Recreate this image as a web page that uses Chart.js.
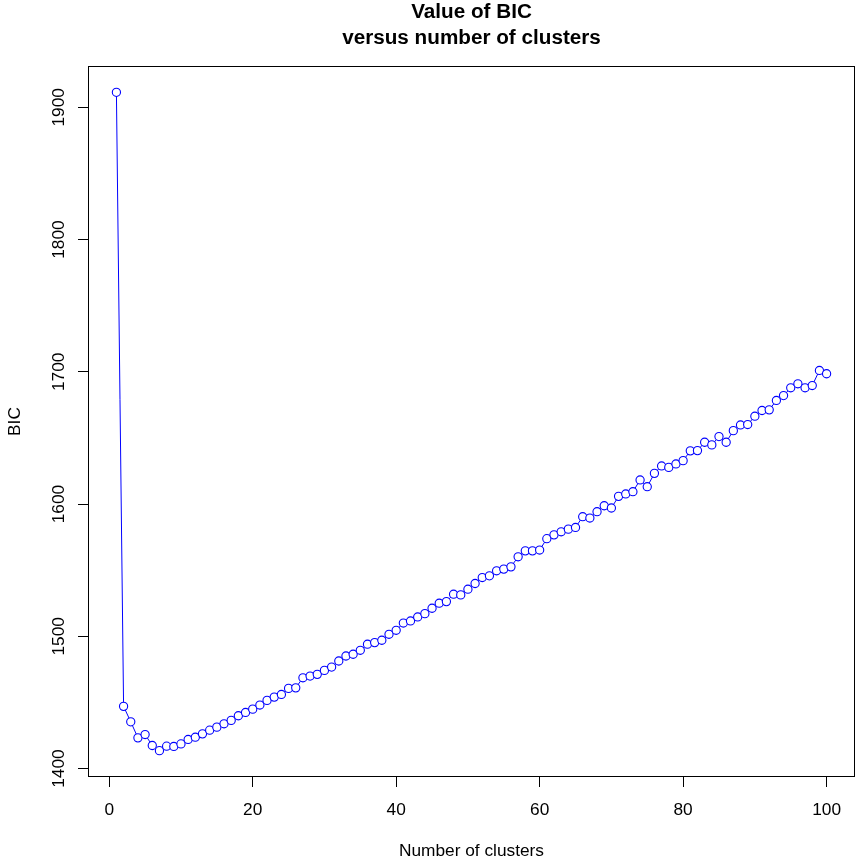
<!DOCTYPE html>
<html>
<head>
<meta charset="utf-8">
<title>Value of BIC versus number of clusters</title>
<script src="https://cdn.jsdelivr.net/npm/chart.js@4/dist/chart.umd.min.js"></script>
<style>
  html, body { margin: 0; padding: 0; background: #fff; }
  canvas { display: block; }
</style>
</head>
<body>
<canvas id="bic_chart" width="856" height="863"></canvas>
<script>
// number of clusters tried
const clusters = [
    1, 2, 3, 4, 5, 6, 7, 8, 9, 10,
    11, 12, 13, 14, 15, 16, 17, 18, 19, 20,
    21, 22, 23, 24, 25, 26, 27, 28, 29, 30,
    31, 32, 33, 34, 35, 36, 37, 38, 39, 40,
    41, 42, 43, 44, 45, 46, 47, 48, 49, 50,
    51, 52, 53, 54, 55, 56, 57, 58, 59, 60,
    61, 62, 63, 64, 65, 66, 67, 68, 69, 70,
    71, 72, 73, 74, 75, 76, 77, 78, 79, 80,
    81, 82, 83, 84, 85, 86, 87, 88, 89, 90,
    91, 92, 93, 94, 95, 96, 97, 98, 99, 100
];

// BIC for each fit
const bic = [
    1911.3, 1447.0, 1435.3, 1423.2, 1425.7, 1417.4, 1413.5, 1416.9, 1416.7, 1418.6,
    1422.0, 1423.7, 1426.2, 1429.0, 1431.3, 1433.8, 1436.4, 1439.9, 1442.4, 1444.9,
    1448.0, 1451.5, 1454.0, 1456.0, 1460.6, 1461.0, 1468.6, 1469.9, 1471.2, 1474.2,
    1476.7, 1481.3, 1485.1, 1486.4, 1489.4, 1494.0, 1495.2, 1497.0, 1501.5, 1504.5,
    1510.0, 1511.6, 1514.6, 1517.1, 1521.2, 1525.0, 1526.2, 1531.8, 1531.3, 1535.6,
    1539.9, 1544.4, 1545.7, 1549.5, 1550.8, 1552.5, 1560.1, 1564.6, 1564.6, 1565.2,
    1573.8, 1576.7, 1579.0, 1581.0, 1582.3, 1590.4, 1589.4, 1594.2, 1598.7, 1597.0,
    1605.8, 1607.6, 1609.3, 1618.2, 1613.1, 1623.2, 1628.8, 1627.7, 1630.3, 1632.8,
    1640.2, 1640.4, 1646.7, 1644.7, 1651.0, 1646.7, 1655.5, 1659.8, 1660.1, 1666.4,
    1670.7, 1671.2, 1678.3, 1682.0, 1687.9, 1690.9, 1687.9, 1689.6, 1701.0, 1698.5
];

const xTicks = [0, 20, 40, 60, 80, 100];
const yTicks = [1400, 1500, 1600, 1700, 1800, 1900];

const font = "'Liberation Sans', Arial, Helvetica, sans-serif";

// axis limits with 4% slack on each side
function padRange(vals) {
    const lo = Math.min(...vals);
    const hi = Math.max(...vals);
    const d = (hi - lo) * 0.04;
    return [lo - d, hi + d];
}
const [xMin, xMax] = padRange(clusters);
const [yMin, yMax] = padRange(bic);

// frame around the plotting region
const plotBox = {
    id: 'plotBox',
    afterDatasetsDraw(chart) {
        const { ctx, chartArea: a } = chart;
        ctx.save();
        ctx.strokeStyle = '#000';
        ctx.lineWidth = 1;
        ctx.strokeRect(a.left + 0.5, a.top + 0.5, a.right - a.left - 1, a.bottom - a.top - 1);
        ctx.restore();
    }
};

const chartEl = document.getElementById('bic_chart');

new Chart(chartEl, {
    type: 'line',
    data: {
        datasets: [{
            data: clusters.map((k, i) => ({ x: k, y: bic[i] })),
            borderColor: '#0000ff',
            borderWidth: 1,
            tension: 0,
            fill: false,
            pointRadius: 4.1,
            pointHoverRadius: 4.1,
            pointBorderWidth: 1.1,
            pointBorderColor: '#0000ff',
            pointBackgroundColor: '#ffffff'
        }]
    },
    options: {
        responsive: false,
        animation: false,
        layout: {
            autoPadding: false,
            padding: { left: 0, right: 1, top: 0, bottom: 0 }
        },
        plugins: {
            legend: { display: false },
            tooltip: { enabled: false },
            title: {
                display: true,
                text: ['Value of BIC', 'versus number of clusters'],
                fullSize: false,
                color: '#000',
                font: { family: font, size: 20.7, weight: 'bold', lineHeight: 26 / 20.7 },
                padding: { top: -1, bottom: 15 }
            }
        },
        scales: {
            x: {
                type: 'linear',
                min: xMin,
                max: xMax,
                afterBuildTicks: s => { s.ticks = xTicks.map(v => ({ value: v })); },
                afterFit: s => { s.height = 86; },
                border: { display: false },
                grid: {
                    drawOnChartArea: false,
                    color: '#000',
                    tickLength: 10
                },
                ticks: {
                    color: '#000',
                    font: { family: font, size: 17.3 },
                    padding: 13,
                    maxRotation: 0,
                    autoSkip: false,
                    callback: v => String(v)
                },
                title: {
                    display: true,
                    text: 'Number of clusters',
                    color: '#000',
                    font: { family: font, size: 17.3 },
                    padding: { top: 0, bottom: 1 }
                }
            },
            y: {
                type: 'linear',
                min: yMin,
                max: yMax,
                afterBuildTicks: s => { s.ticks = yTicks.map(v => ({ value: v })); },
                afterFit: s => { s.width = 88; },
                border: { display: false },
                grid: {
                    drawOnChartArea: false,
                    color: '#000',
                    tickLength: 10
                },
                ticks: {
                    color: '#000',
                    font: { family: font, size: 17.3 },
                    minRotation: 90,
                    maxRotation: 90,
                    crossAlign: 'center',
                    padding: 0,
                    autoSkip: false,
                    callback: v => String(v)
                },
                title: {
                    display: true,
                    text: 'BIC',
                    color: '#000',
                    font: { family: font, size: 17.3 },
                    padding: { top: 5, bottom: 0 }
                }
            }
        }
    },
    plugins: [plotBox]
});
</script>
</body>
</html>
